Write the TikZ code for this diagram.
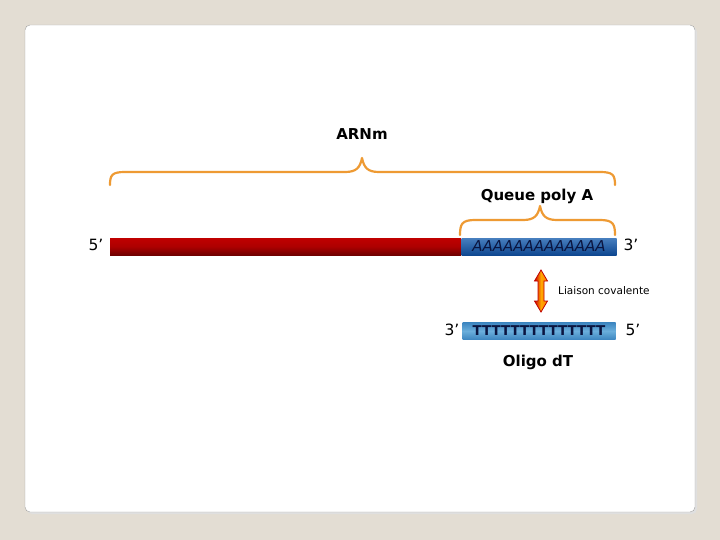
\documentclass[tikz,border=0pt]{standalone}
\usepackage{fontspec}
\setmainfont{DejaVu Sans}
\usetikzlibrary{shadings}
\definecolor{bgc}{HTML}{E3DDD3}
\definecolor{edgec}{HTML}{A0A0A0}
\definecolor{bracec}{HTML}{EE9A33}
\definecolor{redtop}{HTML}{C00000}
\definecolor{redbot}{HTML}{700000}
\definecolor{bluetop}{HTML}{1A5FAF}
\definecolor{bluebot}{HTML}{0E4790}
\definecolor{lbluemid}{HTML}{6AAEDB}
\definecolor{lblueedge}{HTML}{3D86C0}
\definecolor{navy}{HTML}{0A1540}
\tikzset{
  brace/.style={draw=bracec, line width=2.2pt, line cap=round, line join=round},
  lbl/.style={font=\bfseries\fontsize{15}{17}\selectfont, text=black, inner sep=0pt},
  endlbl/.style={font=\fontsize{15.5}{17}\selectfont, text=black, inner sep=0pt},
  small/.style={font=\fontsize{10.5}{12}\selectfont, text=black, inner sep=0pt}
}
\begin{document}
\begin{tikzpicture}[x=1pt,y=-1pt]
\useasboundingbox (0,0) rectangle (720,540);
\fill[bgc] (0,0) rectangle (720,540);
\fill[gray!25] (27,27) [rounded corners=5pt] rectangle (697,514);
\draw[edgec, fill=white, rounded corners=5pt] (25,25) rectangle (695,512);

% red bar
\shade[top color=redtop, bottom color=redbot, middle color=redtop!90!black] (110,238) rectangle (461,255);
% blue poly A bar
\node[minimum width=155pt, minimum height=17pt, inner sep=0pt, top color=bluetop!80!white, bottom color=bluebot, shading angle=0,
      font=\itshape\fontsize{15}{17}\selectfont, text=navy] (polyA) at (539,246.5) {AAAAAAAAAAAAA};
\node[endlbl] (five1) at (96,245) {5’};
\node[endlbl] (three1) at (631,245) {3’};

% big brace
\draw[brace] (110,185) .. controls (110,175) and (112,172) .. (125,172) -- (345,172)
  .. controls (356,172) and (360,168) .. (362,158)
  .. controls (364,168) and (368,172) .. (379,172) -- (600,172)
  .. controls (613,172) and (615,175) .. (615,185);
\node[lbl] (arn) at (362,134) {ARNm};

% small brace
\draw[brace] (460,235) .. controls (460,224) and (462,220) .. (475,220) -- (523,220)
  .. controls (534,220) and (538,216) .. (540,206)
  .. controls (542,216) and (546,220) .. (557,220) -- (600,220)
  .. controls (613,220) and (615,224) .. (615,235);
\node[lbl] (queue) at (537,196) {Queue poly A};

% double arrow
\shade[draw=redtop, line width=0.8pt, left color=red!80!black, right color=orange, middle color=orange!70!yellow]
  (541,270) -- (547.5,281) -- (544,281) -- (544,301) -- (547.5,301) -- (541,312)
  -- (534.5,301) -- (538,301) -- (538,281) -- (534.5,281) -- cycle;
\node[small, anchor=west] (liaison) at (558,291) {Liaison covalente};

% oligo dT bar
\node[minimum width=153pt, minimum height=17pt, inner sep=0pt, top color=lblueedge, bottom color=lblueedge, middle color=lbluemid,
      font=\bfseries\fontsize{13.5}{16}\selectfont, text=navy] (oligo) at (539,331) {TTTTTTTTTTTTTT};
\node[endlbl] (three2) at (452,330) {3’};
\node[endlbl] (five2) at (633,330) {5’};
\node[lbl] (oligolbl) at (538,362) {Oligo dT};
\end{tikzpicture}
\end{document}
